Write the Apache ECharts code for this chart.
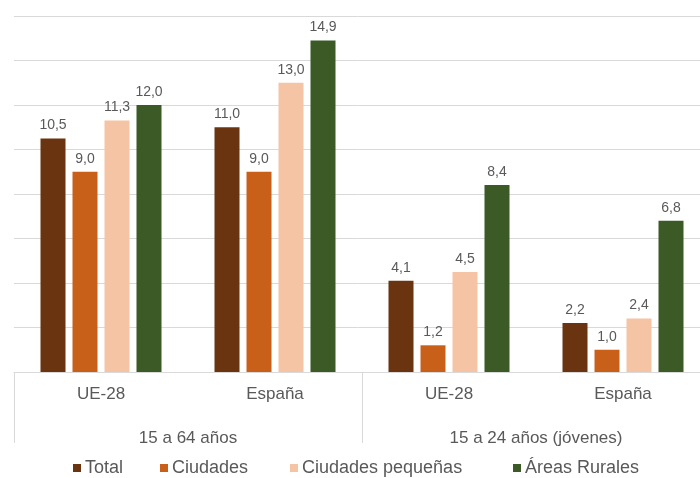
<!DOCTYPE html>
<html>
<head>
<meta charset="utf-8">
<script src="https://cdn.jsdelivr.net/npm/echarts@6/dist/echarts.min.js"></script>
<style>
html,body{margin:0;padding:0;background:#fff;}
#chart{width:700px;height:478px;}
</style>
</head>
<body>
<div id="chart"></div>
<script>
var categories = ['UE-28', 'España', 'UE-28', 'España'];
var groups = ['15 a 64 años', '15 a 24 años (jóvenes)'];
var seriesNames = ['Total', 'Ciudades', 'Ciudades pequeñas', 'Áreas Rurales'];
var total = [10.5, 11.0, 4.1, 2.2];
var ciudades = [9.0, 9.0, 1.2, 1.0];
var ciudadesPequenas = [11.3, 13.0, 4.5, 2.4];
var areasRurales = [12.0, 14.9, 8.4, 6.8];
var colors = ['#6b3410', '#c8601a', '#f5c4a4', '#3b5a26'];

var valuesList = [total, ciudades, ciudadesPequenas, areasRurales];
var legendLefts = [73, 160, 290, 513];
var textColor = '#595959';
var font = '"Liberation Sans", Arial, sans-serif';

var chart = echarts.init(document.getElementById('chart'), null, {renderer: 'canvas'});

var series = valuesList.map(function (vals, i) {
  return {
    name: seriesNames[i],
    type: 'bar',
    xAxisIndex: 0,
    data: vals,
    barWidth: 25,
    barGap: '28%',
    itemStyle: {color: colors[i]},
    label: {
      show: true,
      position: 'top',
      distance: 6,
      color: textColor,
      fontSize: 14,
      fontFamily: font,
      formatter: function (p) { return p.value.toFixed(1).replace('.', ','); }
    }
  };
});

var legends = seriesNames.map(function (n, i) {
  return {
    data: [n],
    left: legendLefts[i],
    top: 459,
    padding: 0,
    itemWidth: 8,
    itemHeight: 8,
    itemGap: 0,
    icon: 'rect',
    textStyle: {color: textColor, fontSize: 18, fontFamily: font, padding: [0, 0, 0, -1]}
  };
});

chart.setOption({
  animation: false,
  backgroundColor: '#ffffff',
  legend: legends,
  grid: {left: 14, top: 16, width: 696, bottom: 106, containLabel: false, outerBoundsMode: 'none'},
  xAxis: [
    {
      type: 'category',
      data: categories,
      position: 'bottom',
      axisLine: {show: true, lineStyle: {color: '#d9d9d9', width: 1}},
      axisTick: {show: false},
      axisLabel: {color: textColor, fontSize: 17, fontFamily: font, margin: 14}
    },
    {
      type: 'category',
      data: groups,
      position: 'bottom',
      offset: 0,
      axisLine: {show: false},
      axisTick: {show: true, length: 71, lineStyle: {color: '#d9d9d9', width: 1}},
      axisLabel: {color: textColor, fontSize: 17, fontFamily: font, margin: 58}
    }
  ],
  yAxis: {
    type: 'value',
    min: 0,
    max: 16,
    interval: 2,
    axisLabel: {show: false},
    axisLine: {show: false},
    axisTick: {show: false},
    splitLine: {lineStyle: {color: '#d9d9d9', width: 1}}
  },
  series: series
});
</script>
</body>
</html>
